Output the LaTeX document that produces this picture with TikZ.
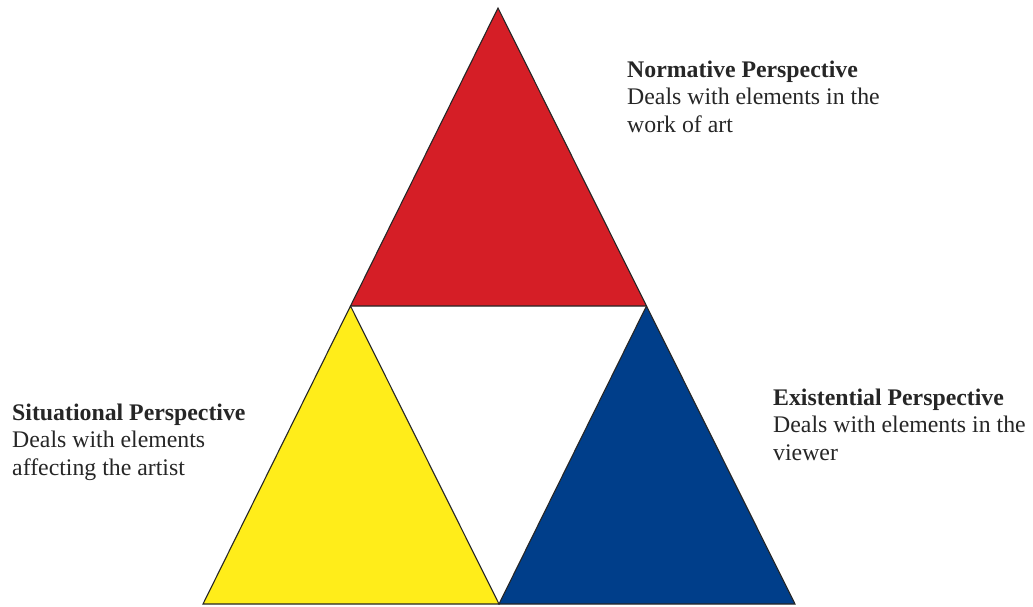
\documentclass[tikz,border=0pt]{standalone}
\usepackage{fontspec}
\setmainfont{Liberation Serif}
\definecolor{tred}{RGB}{213,30,38}
\definecolor{tyellow}{RGB}{255,237,26}
\definecolor{tblue}{RGB}{0,62,138}
\tikzset{
  part/.style={draw=black!85, line width=1.1pt, line join=miter},
  label/.style={anchor=base west, inner sep=0pt, align=left, text=black!85,
    font=\fontsize{23.8}{27.3}\selectfont},
}
\begin{document}
\begin{tikzpicture}[x=1pt,y=-1pt]
\useasboundingbox (0,0) rectangle (1033,607);
\coordinate (A) at (498,8);
\coordinate (B) at (203,604);
\coordinate (C) at (795,604);
\coordinate (AB) at (350.5,306);
\coordinate (AC) at (646.5,306);
\coordinate (BC) at (499,604);
\fill[white] (AB) -- (AC) -- (BC) -- cycle;
\filldraw[part, fill=tred] (A) -- (AB) -- (AC) -- cycle;
\filldraw[part, fill=tyellow] (AB) -- (B) -- (BC) -- cycle;
\filldraw[part, fill=tblue] (AC) -- (BC) -- (C) -- cycle;
\node[label] (norm) at (627,132) {\textbf{Normative Perspective}\\Deals with elements in the\\work of art};
\node[label] (sit) at (12,475) {\textbf{Situational Perspective}\\Deals with elements\\affecting the artist};
\node[label] (exi) at (773,460) {\textbf{Existential Perspective}\\Deals with elements in the\\viewer};
\end{tikzpicture}
\end{document}
